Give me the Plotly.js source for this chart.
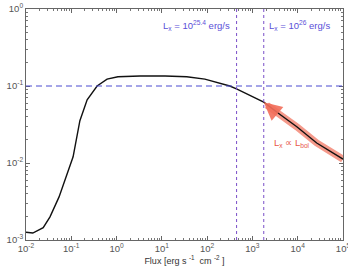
<!DOCTYPE html>
<html><head><meta charset="utf-8">
<script src="https://cdn.plot.ly/plotly-3.0.1.min.js"></script>
<style>html,body{margin:0;padding:0;background:#fff}#c{width:348px;height:266px}</style>
</head><body><div id="c"></div>
<script>
// Main curve (flux vs ratio) (log10 values)
const logFlux = [-2.0,-1.85,-1.62,-1.47,-1.27,-1.12,-0.96,-0.81,-0.65,-0.43,-0.21,0.03,0.52,1.07,1.55,1.95,2.28,2.50,2.66,2.94,3.25,3.61,3.98,4.42,4.98,5.0];
const logRatio = [-2.90,-2.91,-2.84,-2.70,-2.44,-2.18,-1.92,-1.45,-1.18,-1.0,-0.91,-0.88,-0.87,-0.87,-0.88,-0.91,-0.96,-1.0,-1.04,-1.12,-1.21,-1.37,-1.53,-1.74,-1.94,-1.95];
// Lx ∝ Lbol band
const bandLogFlux = [3.32,3.61,3.98,4.42,5.0];
const bandLogRatio = [-1.25,-1.37,-1.53,-1.74,-1.95];
// Reference lines
const refRatio = 0.1;
const lxFlux = [447, 1778];
const lxLabels = ['L<sub>x</sub> = 10<sup>25.4</sup> erg/s','L<sub>x</sub> = 10<sup>26</sup> erg/s'];
// Tick labels
const xExp = [-2,-1,0,1,2,3,4,5];
const yExp = [-3,-2,-1,0];

const p10 = a => a.map(v => Math.pow(10, v));
const tt = a => a.map(e => '10<sup>' + e + '</sup>');

const traces = [
  {x: p10(bandLogFlux), y: p10(bandLogRatio), mode:'lines', line:{color:'rgba(242,120,100,0.75)', width:7}, hoverinfo:'skip'},
  {x: p10(logFlux), y: p10(logRatio), mode:'lines', line:{color:'#111', width:1.4}, hoverinfo:'skip'}
];

const shapes = [
  {type:'line', xref:'paper', x0:0, x1:1, yref:'y', y0:refRatio, y1:refRatio, line:{color:'#4a4ad0', width:1, dash:'6px,4px'}}
].concat(lxFlux.map(f => ({type:'line', xref:'x', x0:f, x1:f, yref:'paper', y0:0, y1:1, line:{color:'#7a4fc8', width:1, dash:'dot'}})));

const annotations = [
  {x:1.77, y:-0.22, xref:'x', yref:'y', text:lxLabels[0], showarrow:false, font:{size:9.5, color:'#5a4fd8'}},
  {x:4.03, y:-0.22, xref:'x', yref:'y', text:lxLabels[1], showarrow:false, font:{size:9.5, color:'#5a4fd8'}},
  {x:3.87, y:-1.74, xref:'x', yref:'y', text:'L<sub>x</sub> ∝ L<sub>bol</sub>', showarrow:false, font:{size:9.5, color:'#e8574a'}},
  {x:3.25, y:-1.21, xref:'x', yref:'y', axref:'x', ayref:'y', ax:3.45, ay:-1.31, text:'', showarrow:true, arrowhead:2, arrowsize:0.9, arrowwidth:4, arrowcolor:'rgba(242,110,90,0.9)'}
];

const axisCommon = {
  type:'log', showgrid:false, zeroline:false, showline:true, mirror:'allticks', linecolor:'#666', linewidth:1,
  ticks:'inside', ticklen:4, tickcolor:'#666', ticklabeloverflow:'allow',
  tickfont:{size:9.5, color:'#555'},
  minor:{ticks:'inside', ticklen:2, tickcolor:'#777', showgrid:false, dtick:'D1'}
};

const layout = {
  width:348, height:266, margin:{l:26, r:5, t:9, b:26},
  paper_bgcolor:'#fff', plot_bgcolor:'#fff', showlegend:false,
  font:{family:'Liberation Sans, Arial, sans-serif'},
  xaxis: Object.assign({}, axisCommon, {range:[-2,5], tickmode:'array', tickvals:p10(xExp), ticktext:tt(xExp),
    title:{text:'Flux [erg s <sup>-1</sup>  cm <sup>-2</sup> ]', font:{size:9, color:'#333'}, standoff:1}}),
  yaxis: Object.assign({}, axisCommon, {range:[-3,0], tickmode:'array', tickvals:p10(yExp), ticktext:tt(yExp)}),
  shapes: shapes, annotations: annotations
};

Plotly.newPlot('c', traces, layout, {staticPlot:true, displayModeBar:false});
</script></body></html>
